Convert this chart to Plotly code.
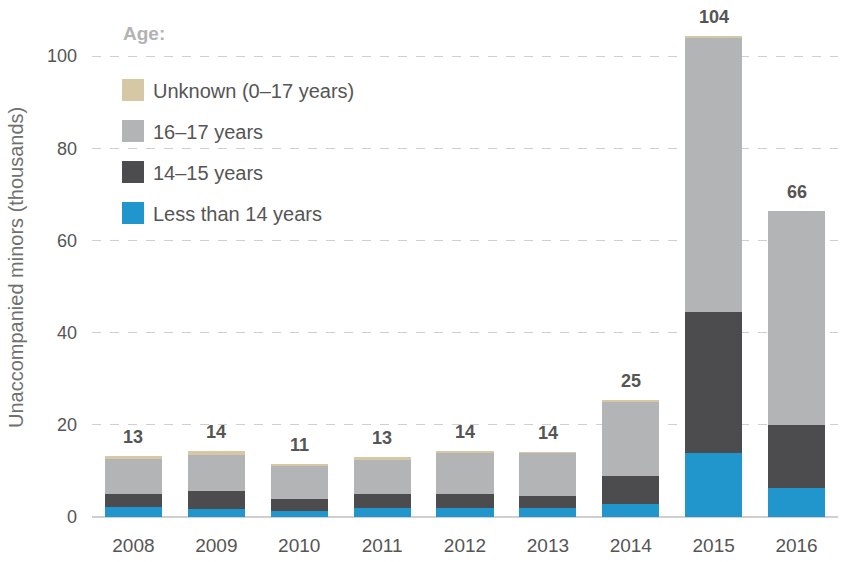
import plotly.graph_objects as go

years = ["2008", "2009", "2010", "2011", "2012", "2013", "2014", "2015", "2016"]
less_than_14 = [2.1, 1.8, 1.4, 2.0, 2.0, 2.0, 2.8, 13.8, 6.2]
age_14_15 = [2.8, 3.8, 2.5, 2.9, 2.9, 2.5, 6.1, 30.7, 13.8]
age_16_17 = [7.6, 7.9, 7.2, 7.5, 9.0, 9.3, 16.1, 59.5, 46.3]
unknown = [0.8, 0.8, 0.5, 0.6, 0.4, 0.4, 0.4, 0.3, 0.1]
total_labels = ["13", "14", "11", "13", "14", "14", "25", "104", "66"]

series_names = ["Unknown (0\u201317 years)", "16\u201317 years", "14\u201315 years", "Less than 14 years"]
series_colors = ["#d6c8a4", "#b3b4b5", "#4c4c4e", "#2196cc"]

FONT = "Liberation Sans"
fig = go.Figure()
stack = [less_than_14, age_14_15, age_16_17, unknown]
stack_names = [series_names[3], series_names[2], series_names[1], series_names[0]]
stack_colors = [series_colors[3], series_colors[2], series_colors[1], series_colors[0]]
for vals, name, col in zip(stack, stack_names, stack_colors):
    fig.add_trace(go.Bar(x=years, y=vals, name=name, marker=dict(color=col, line=dict(width=0)),
                         showlegend=False, hoverinfo="skip"))

totals = [a + b + c + d for a, b, c, d in zip(less_than_14, age_14_15, age_16_17, unknown)]
annotations = []
for i, (t, lab) in enumerate(zip(totals, total_labels)):
    annotations.append(dict(x=i, xref="x", y=t, yref="y", text="<b>%s</b>" % lab, showarrow=False,
                            yanchor="bottom", yshift=7, font=dict(family=FONT, size=18, color="#555555")))

PL, PR, PT, PB = 92, 838, 10, 517  # plot area in page pixels
def px(x):
    return (x - PL) / (PR - PL)
def py(y):
    return (PB - y) / (PB - PT)

annotations.append(dict(x=px(121), y=py(33), xref="paper", yref="paper", xanchor="left", yanchor="middle",
                        text="<b>Age:</b>", showarrow=False, font=dict(family=FONT, size=19, color="#b3b3b3")))
shapes = []
legend_y = [90, 131, 172, 213]
for name, col, yc in zip(series_names, series_colors, legend_y):
    shapes.append(dict(type="rect", xref="paper", yref="paper", x0=px(122), x1=px(144),
                       y0=py(yc - 11), y1=py(yc + 11), fillcolor=col, line=dict(width=0), layer="above"))
    annotations.append(dict(x=px(151), y=py(yc + 1), xref="paper", yref="paper", xanchor="left",
                            yanchor="middle", text=name, showarrow=False,
                            font=dict(family=FONT, size=20, color="#555555")))

annotations.append(dict(x=px(16), y=py(268), xref="paper", yref="paper", textangle=-90, showarrow=False,
                        text="Unaccompanied minors (thousands)", xanchor="center", yanchor="middle",
                        font=dict(family=FONT, size=20, color="#707070")))

fig.update_layout(
    barmode="stack",
    bargap=0.31,
    width=842, height=562,
    margin=dict(l=PL, r=842 - PR, t=PT, b=562 - PB),
    paper_bgcolor="white", plot_bgcolor="white",
    font=dict(family=FONT, color="#555555"),
    annotations=annotations,
    shapes=shapes,
    showlegend=False,
)
fig.update_xaxes(type="category", categoryorder="array", categoryarray=years, showgrid=False,
                 showline=False, ticks="", tickfont=dict(size=19, color="#555555"), ticklabelstandoff=15)
fig.update_yaxes(range=[0, 110], tickvals=[0, 20, 40, 60, 80, 100], showgrid=True, gridcolor="#cfcfcf",
                 griddash="dash", gridwidth=1, zeroline=True, zerolinecolor="#cfcfcf", zerolinewidth=1.5,
                 tickfont=dict(size=18, color="#555555"), ticklabelstandoff=14, showline=False)

fig.write_html("out.html", config={"displayModeBar": False, "staticPlot": True},
               post_script="document.body.style.margin='0';document.body.style.overflow='hidden';")
